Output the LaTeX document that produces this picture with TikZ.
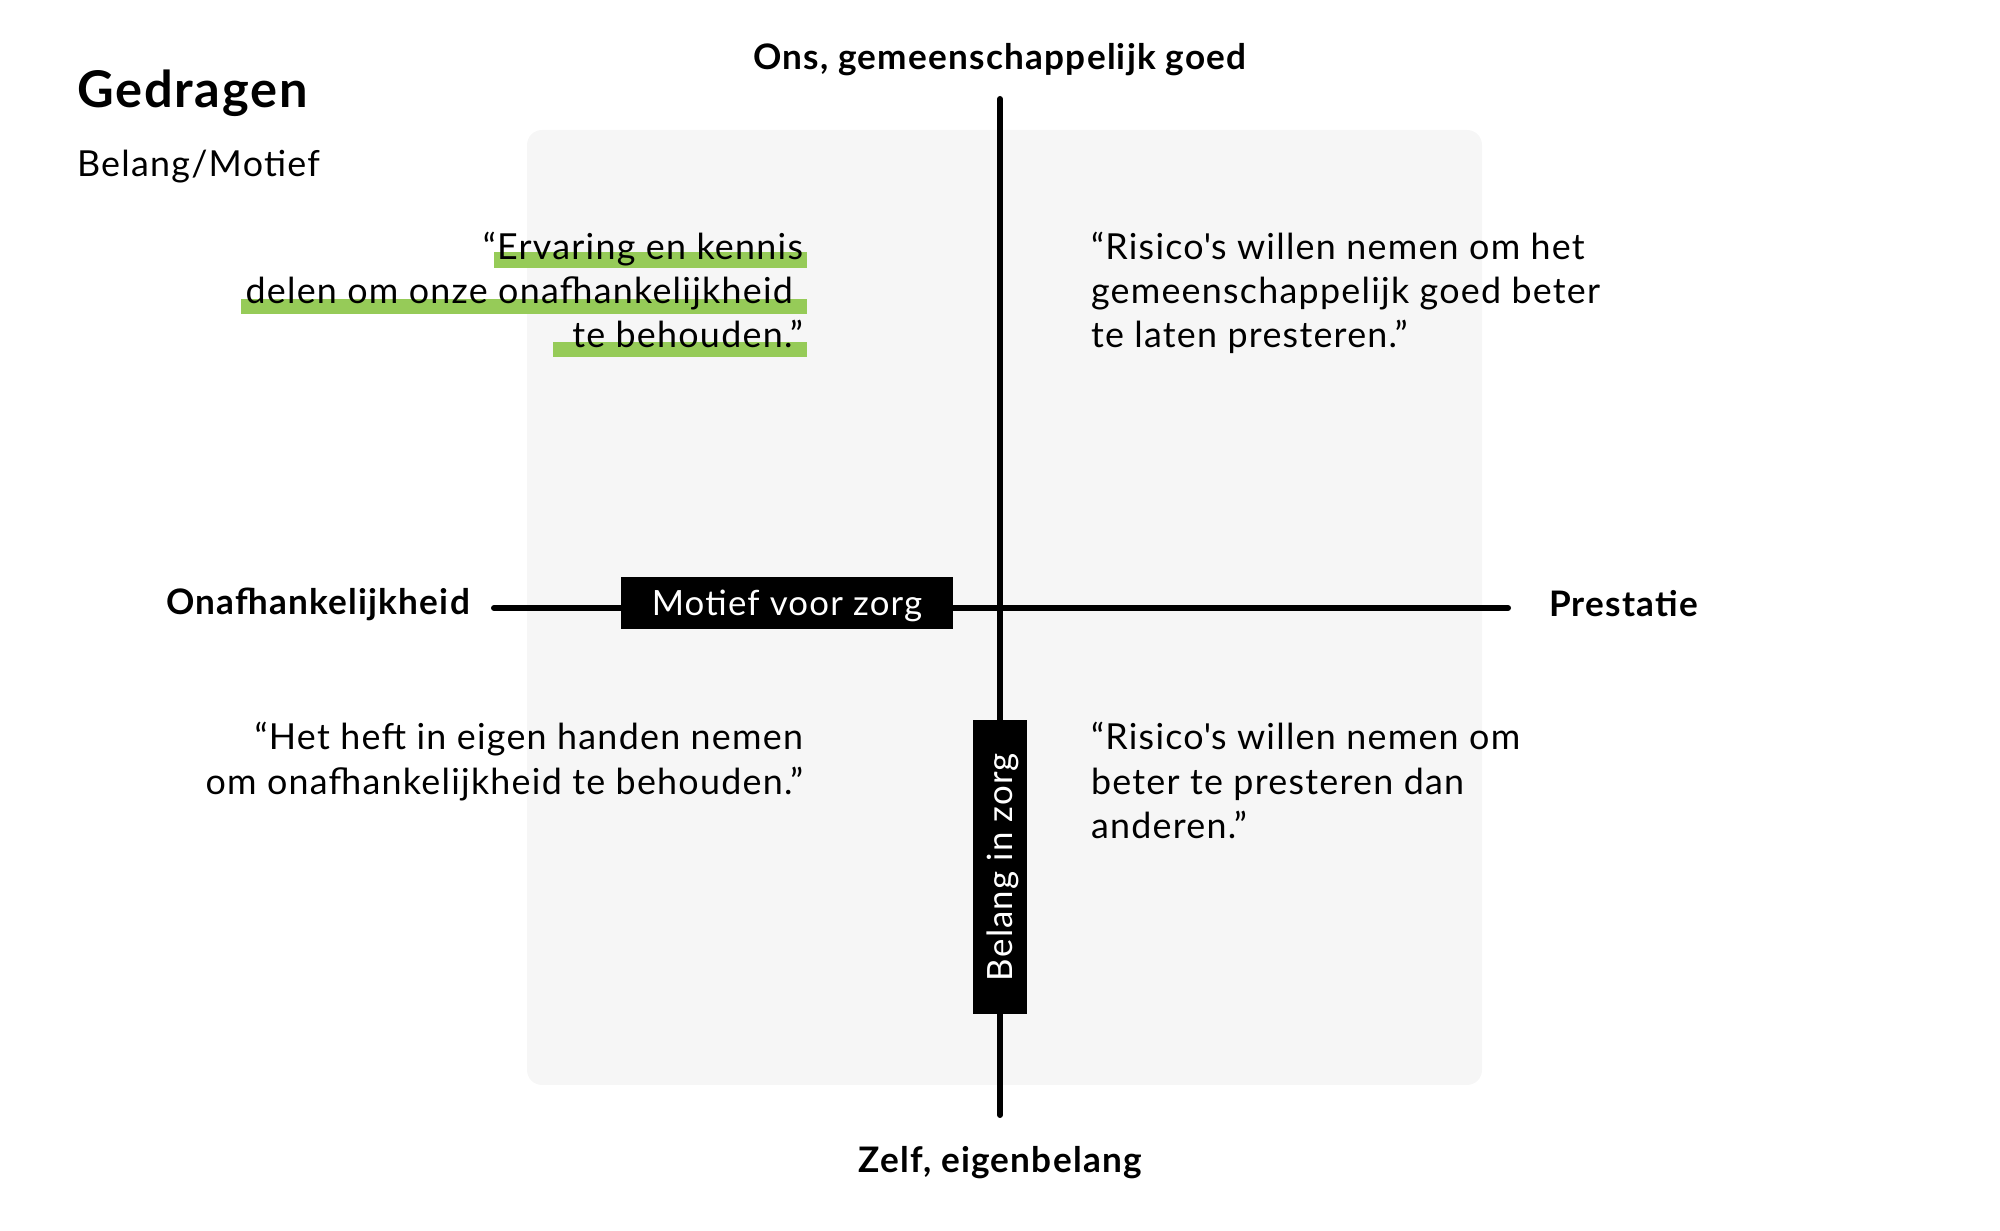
\documentclass[tikz,border=0pt]{standalone}
\usepackage{fontspec}
\setmainfont{Lato}[LetterSpace=3.5]
\usetikzlibrary{positioning}
\definecolor{panelgray}{RGB}{246,246,246}
\definecolor{markgreen}{RGB}{150,203,88}
\tikzset{quote/.style = {inner sep = 0, font = \fontsize{10.2}{12}\selectfont}}
\tikzset{axislabel/.style = {inner sep = 0, font = \fontsize{10}{12}\selectfont\bfseries}}
\tikzset{tag/.style = {fill = black, text = white, inner sep = 0, text height = 0.25cm, text depth = 0cm,
    font = \fontsize{9.9}{12}\selectfont}}
\tikzset{hilite/.style = {fill = markgreen}}
\tikzset{
  every picture/.style={
    every path/.style={line width = 0.06cm, line cap = round},
  }
}
\begin{document}
\begin{tikzpicture}
      \useasboundingbox (0,0) rectangle (20,-12.31);
      % panel behind the quadrants
      \fill[panelgray, rounded corners = 0.15cm] (5.27,-1.30) rectangle (14.82,-10.85);
      % title
      \node[inner sep = 0, anchor = base west, font = \fontsize{14.4}{16}\selectfont\bfseries] (title) at (0.74,-1.08) {Gedragen};
      \node[quote, anchor = base west] (subtitle) at (0.74,-1.77) {Belang/Motief};
      % axes
      \coordinate (top) at (10,-0.99);
      \coordinate (bot) at (10,-11.15);
      \coordinate (lft) at (4.94,-6.08);
      \coordinate (rgt) at (15.08,-6.08);
      \draw (top) -- (bot);
      \draw (lft) -- (rgt);
      \node[axislabel, anchor = base] (ons) at (10,-0.70) {Ons, gemeenschappelijk goed};
      \node[axislabel, anchor = base] (zelf) at (10,-11.73) {Zelf, eigenbelang};
      \node[axislabel, anchor = base east] (onaf) at (4.73,-6.15) {Onafhankelijkheid};
      \node[axislabel, anchor = base west] (prest) at (15.46,-6.17) {Prestatie};
      \node[tag, minimum width = 3.32cm, minimum height = 0.52cm] (motief) at (7.87,-6.03) {Motief voor zorg};
      \node[tag, rotate = 90, minimum width = 2.94cm, minimum height = 0.54cm] (belang) at (10,-8.67) {Belang in zorg};
      % highlighted quote
      \fill[hilite] (4.94,-2.52) rectangle (8.07,-2.68);
      \fill[hilite] (2.41,-2.99) rectangle (8.07,-3.14);
      \fill[hilite] (5.53,-3.42) rectangle (8.07,-3.57);
      \node[quote, anchor = base east] (qa1) at (8.06,-2.60) {“Ervaring en kennis};
      \node[quote, anchor = base east] (qa2) at (7.96,-3.04) {delen om onze onafhankelijkheid};
      \node[quote, anchor = base east] (qa3) at (8.06,-3.48) {te behouden.”};
      % top right
      \node[quote, anchor = base west] (qb1) at (10.88,-2.60) {“Risico\textquotesingle s willen nemen om het};
      \node[quote, anchor = base west] (qb2) at (10.88,-3.04) {gemeenschappelijk goed beter};
      \node[quote, anchor = base west] (qb3) at (10.88,-3.48) {te laten presteren.”};
      % bottom left
      \node[quote, anchor = base east] (qc1) at (8.06,-7.50) {“Het heft in eigen handen nemen};
      \node[quote, anchor = base east] (qc2) at (8.06,-7.95) {om onafhankelijkheid te behouden.”};
      % bottom right
      \node[quote, anchor = base west] (qd1) at (10.88,-7.50) {“Risico\textquotesingle s willen nemen om};
      \node[quote, anchor = base west] (qd2) at (10.88,-7.95) {beter te presteren dan};
      \node[quote, anchor = base west] (qd3) at (10.88,-8.39) {anderen.”};
    \end{tikzpicture}
\end{document}
